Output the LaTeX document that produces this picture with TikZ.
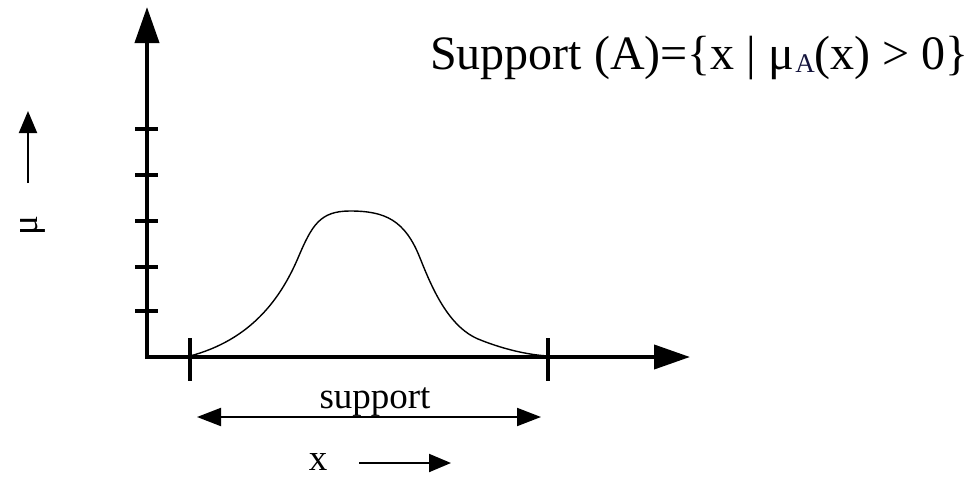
\documentclass[tikz,border=0pt]{standalone}
\usepackage{fontspec}
\setmainfont{Liberation Serif}
\usetikzlibrary{arrows.meta}
\definecolor{subA}{RGB}{20,20,60}
\begin{document}
\begin{tikzpicture}[x=1pt,y=-1pt,
  axis/.style={line width=4pt,-{Triangle[width=24pt,length=36pt]}},
  tick/.style={line width=3.2pt},
  thinarrow/.style={line width=2pt,-{Triangle[width=18pt,length=22pt]}},
  lbl/.style={inner sep=0pt,font=\fontsize{37}{40}\selectfont}]
\useasboundingbox (0,0) rectangle (977,479);
% axes
\coordinate (ytop) at (147,7);
\coordinate (xend) at (690,357);
\draw[axis] (147,359) -- (ytop);
\draw[axis] (145,357) -- (xend);
% y ticks
\foreach \yy in {129,175,221,267,311}
  \draw[tick] (135,\yy) -- (158,\yy);
% x ticks
\coordinate (s1) at (190,357);
\coordinate (s2) at (548,357);
\draw[tick] (190,338) -- (190,381);
\draw[tick] (548,338) -- (548,381);
% curve
\draw[line width=1.4pt] (190,356) .. controls (250,340) and (280,300) .. (298,258)
  .. controls (312,225) and (320,211) .. (350,211)
  .. controls (385,211) and (405,220) .. (420,258)
  .. controls (432,288) and (448,326) .. (478,339)
  .. controls (505,350) and (530,355) .. (548,356);
% support arrow
\coordinate (sa) at (197,417);
\coordinate (sb) at (541,417);
\draw[line width=2pt,{Triangle[width=18pt,length=24pt]}-{Triangle[width=18pt,length=24pt]}] (sa) -- (sb);
\node[lbl] (sup) at (375,402) {support};
% x label
\node[lbl] (xl) at (318,462) {x};
\coordinate (xa1) at (359,463);
\coordinate (xa2) at (451,463);
\draw[thinarrow] (xa1) -- (xa2);
% mu label
\node[lbl,rotate=90] (mu) at (33,226) {μ};
\coordinate (ma1) at (28,183);
\coordinate (ma2) at (28,111);
\draw[thinarrow] (ma1) -- (ma2);
% title
\node[anchor=base west,inner sep=0pt,font=\fontsize{48}{50}\selectfont] (title) at (430,69)
 {Support (A)=\{x | μ\kern1pt\raisebox{-3pt}{\fontsize{27}{29}\selectfont\textcolor{subA}{A}}(x) > 0\}};
\end{tikzpicture}
\end{document}
